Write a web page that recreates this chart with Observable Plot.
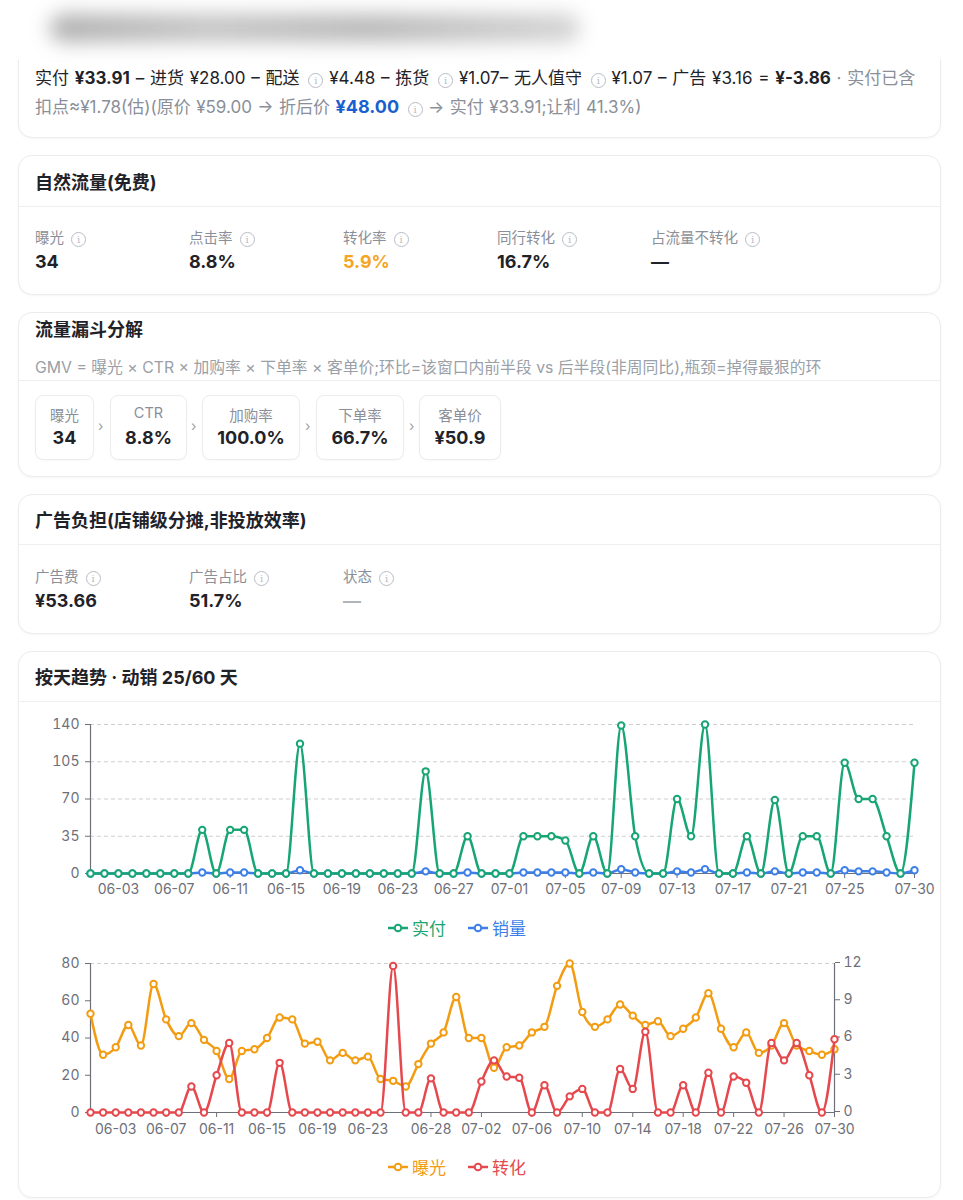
<!DOCTYPE html>
<html><head><meta charset="utf-8">
<script src="https://cdn.jsdelivr.net/npm/d3@7"></script>
<script src="https://cdn.jsdelivr.net/npm/@observablehq/plot@0.6"></script>
<style>
html,body{margin:0;padding:0;background:#fff;}
body{width:963px;height:1200px;position:relative;overflow:hidden;font-family:Inter,"Noto Sans CJK SC",sans-serif;color:#1f2329;}
.card{position:absolute;left:18px;width:921px;background:#fff;border:1px solid #ececec;border-radius:14px;box-shadow:0 1px 3px rgba(0,0,0,0.04);}
.ab{position:absolute;white-space:nowrap;}
.title{font-size:18px;font-weight:700;color:#1f2329;}
.sep{position:absolute;left:0;right:0;height:1px;background:#efefef;}
.lab{font-size:14.5px;color:#8a8f99;}
.val{font-size:18px;font-weight:700;color:#1f2329;}
.info{display:inline-block;width:13px;height:13px;border:1px solid #b8bcc4;border-radius:50%;font-size:10px;line-height:13px;text-align:center;color:#b8bcc4;vertical-align:0px;margin-left:3px;font-family:"DejaVu Serif",serif;}
.box{position:absolute;top:395px;height:63px;border:1px solid #ececec;border-radius:8px;background:#fff;box-shadow:0 1px 2px rgba(0,0,0,0.03);}
.box .bl{position:absolute;left:0;right:0;top:8px;text-align:center;font-size:14.5px;color:#8a8f99;}
.box .bv{position:absolute;left:0;right:0;top:31px;text-align:center;font-size:18px;font-weight:700;color:#1f2329;}
.chev{position:absolute;top:417px;font-size:14px;color:#9aa0a8;}
.legend{position:absolute;font-size:17px;display:flex;align-items:center;gap:0;}
.legend span{display:inline-flex;align-items:center;margin-right:22px;}
.legend svg{margin-right:4px;}
</style></head>
<body>
<!-- partial first card -->
<div class="card" style="top:10px;height:126px;"></div>
<div class="ab" style="left:35px;top:66px;font-size:17px;line-height:24px;color:#1f2329;word-spacing:1px;">实付 <b>¥33.91</b> – 进货 ¥28.00 – 配送 <span class="info">i</span> ¥4.48 – 拣货 <span class="info">i</span> ¥1.07– 无人值守 <span class="info">i</span> ¥1.07 – 广告 ¥3.16 = <b>¥-3.86</b> <span style="color:#8a8f99">· 实付已含</span></div>
<div class="ab" style="left:35px;top:95px;font-size:17px;line-height:24px;color:#8a8f99;word-spacing:0.7px;">扣点≈¥1.78(估)(原价 ¥59.00 → 折后价 <b style="color:#1a5fd0;font-size:18px">¥48.00</b> <span class="info">i</span> → 实付 ¥33.91;让利 41.3%)</div>
<!-- blurred sticky header -->
<div style="position:absolute;left:0;top:0;width:963px;height:60px;background:linear-gradient(#fff 0,#fff 75%,rgba(255,255,255,0.9) 100%);"></div>
<div style="position:absolute;left:50px;top:14px;width:530px;height:28px;background:linear-gradient(90deg,#9a9a9a,#b5b5b5 30%,#a6a6a6 60%,#c8c8c8);border-radius:14px;filter:blur(10px);opacity:0.8;"></div>

<!-- card 2 -->
<div class="card" style="top:155px;height:138px;"><div class="sep" style="top:50px;"></div></div>
<div class="ab title" style="left:35px;top:168px;">自然流量(免费)</div>
<div id="nat"></div>

<!-- card 3 -->
<div class="card" style="top:312px;height:163px;"><div class="sep" style="top:67px;"></div></div>
<div class="ab title" style="left:35px;top:315px;">流量漏斗分解</div>
<div class="ab" style="left:35px;top:355px;font-size:15.8px;color:#9aa0a8;">GMV = 曝光 × CTR × 加购率 × 下单率 × 客单价;环比=该窗口内前半段 vs 后半段(非周同比),瓶颈=掉得最狠的环</div>
<div id="funnel"></div>

<!-- card 4 -->
<div class="card" style="top:494px;height:138px;"><div class="sep" style="top:49px;"></div></div>
<div class="ab title" style="left:35px;top:506px;">广告负担(店铺级分摊,非投放效率)</div>
<div id="ads"></div>

<!-- card 5 -->
<div class="card" style="top:651px;height:545px;"><div class="sep" style="top:49px;"></div></div>
<div class="ab title" style="left:35px;top:663px;">按天趋势 · 动销 25/60 天</div>
<div id="c1" style="position:absolute;left:0;top:705px;"></div>
<div id="c2" style="position:absolute;left:0;top:945px;"></div>
<div class="legend" style="left:388px;top:915px;" id="lg1"></div>
<div class="legend" style="left:388px;top:1154px;" id="lg2"></div>

<script>
// ---------- data ----------
const natLabels = ["曝光", "点击率", "转化率", "同行转化", "占流量不转化"];
const natValues = ["34", "8.8%", "5.9%", "16.7%", "—"];
const funnelLabels = ["曝光", "CTR", "加购率", "下单率", "客单价"];
const funnelValues = ["34", "8.8%", "100.0%", "66.7%", "¥50.9"];
const adLabels = ["广告费", "广告占比", "状态"];
const adValues = ["¥53.66", "51.7%", "—"];

const dates = [
  "06-01","06-02","06-03","06-04","06-05","06-06","06-07","06-08","06-09","06-10",
  "06-11","06-12","06-13","06-14","06-15","06-16","06-17","06-18","06-19","06-20",
  "06-21","06-22","06-23","06-24","06-25","06-26","06-27","06-28","06-29","06-30",
  "07-01","07-02","07-03","07-04","07-05","07-06","07-07","07-08","07-09","07-10",
  "07-11","07-12","07-13","07-14","07-15","07-16","07-17","07-18","07-19","07-20",
  "07-21","07-22","07-23","07-24","07-25","07-26","07-27","07-28","07-29","07-30"];
const paid = [
  0,0,0,0,0,0,0,0,41,0, 41,41,0,0,0,122,0,0,0,0, 0,0,0,0,96,0,0,35,0,0,
  0,35,35,35,31,0,35,0,139,35, 0,0,70,35,140,0,0,35,0,69, 0,35,35,0,104,70,70,35,0,104];
const units = [
  0,0,0,0,0,0,0,0,1,0, 1,1,0,0,0,3,0,0,0,0, 0,0,0,0,2,0,0,1,0,0,
  0,1,1,1,1,0,1,0,4,1, 0,0,2,1,4,0,0,1,0,2, 0,1,1,0,3,2,2,1,0,3];
const exposure = [
  53,31,35,47,36,69,50,41,48,39, 33,18,33,34,40,51,50,37,38,28, 32,28,30,18,17,14,26,37,43,62,
  40,40,24,35,36,43,46,68,80,54, 46,50,58,52,47,49,41,45,51,64, 45,35,43,32,36,48,36,33,31,34];
const conv = [
  0,0,0,0,0,0,0,0,2.1,0, 3.0,5.6,0,0,0,4.0,0,0,0,0, 0,0,0,0,11.8,0,0,2.75,0,0,
  0,2.5,4.2,2.9,2.8,0,2.2,0,1.3,1.9, 0,0,3.5,1.9,6.5,0,0,2.2,0,3.2, 0,2.9,2.4,0,5.6,4.2,5.6,3.0,0,5.9];
const ticks1 = ["06-03","06-07","06-11","06-15","06-19","06-23","06-27","07-01","07-05","07-09","07-13","07-17","07-21","07-25","07-30"];
const ticks2 = ["06-03","06-07","06-11","06-15","06-19","06-23","06-28","07-02","07-06","07-10","07-14","07-18","07-22","07-26","07-30"];
const yTicks1 = [0,35,70,105,140];
const yTicksL = [0,20,40,60,80];
const yTicksR = [0,3,6,9,12];

const C = {paid:"#17a673", units:"#3d7fe8", exp:"#f39c12", conv:"#e5484d", axis:"#6e7079", grid:"#cfcfcf"};

// ---------- metric cards ----------
const info = '<span class="info">i</span>';
function metrics(id, labels, values, colX, labY, valY, colors) {
  document.getElementById(id).innerHTML = labels.map((l,i) =>
    `<div class="ab lab" style="left:${colX[i]}px;top:${labY-11}px;">${l} ${info}</div>` +
    `<div class="ab val" style="left:${colX[i]}px;top:${valY-12}px;${colors && colors[i] ? "color:"+colors[i]+";" : ""}">${values[i]}</div>`
  ).join("");
}
metrics("nat", natLabels, natValues, [35,189,343,497,651], 237, 263, [null,null,"#f5a524",null,null]);
metrics("ads", adLabels, adValues, [35,189,343], 576, 602, [null,null,"#b0b4bb"]);

const boxX = [[35,92],[110,185],[202,298],[316,402],[419,499]];
const chevX = [98, 191, 305, 409];
document.getElementById("funnel").innerHTML =
  funnelLabels.map((l,i) => `<div class="box" style="left:${boxX[i][0]}px;width:${boxX[i][1]-boxX[i][0]}px;"><div class="bl">${l}</div><div class="bv">${funnelValues[i]}</div></div>`).join("") +
  chevX.map(x => `<div class="chev" style="left:${x}px;">›</div>`).join("");

// ---------- charts ----------
const rows = dates.map((d,i) => ({date:d, paid:paid[i], units:units[i], exposure:exposure[i], conv:conv[i]}));
const font = {fontFamily:'Inter,"Noto Sans CJK SC",sans-serif', fontSize:"14px", color:C.axis, background:"transparent", overflow:"visible"};

const chart1 = Plot.plot({
  width:963, height:200, marginLeft:90, marginRight:49, marginTop:19, marginBottom:32,
  style:font,
  x:{type:"point", domain:dates, padding:0},
  y:{domain:[0,140]},
  marks:[
    Plot.gridY(yTicks1.slice(1), {stroke:C.grid, strokeOpacity:1, strokeDasharray:"4,3"}),
    Plot.ruleY([0], {stroke:C.axis, strokeWidth:1.2}),
    Plot.ruleX([dates[0]], {stroke:C.axis, strokeWidth:1.2}),
    Plot.axisY(yTicks1, {tickSize:5, tickPadding:6, label:null, stroke:C.axis}),
    Plot.axisX(ticks1, {tickSize:5, tickPadding:6, label:null, stroke:C.axis}),
    Plot.line(rows, {x:"date", y:"units", stroke:C.units, strokeWidth:2.5, curve:"monotone-x"}),
    Plot.dot(rows, {x:"date", y:"units", r:3.2, stroke:C.units, strokeWidth:2, fill:"#fff"}),
    Plot.line(rows, {x:"date", y:"paid", stroke:C.paid, strokeWidth:2.5, curve:"monotone-x"}),
    Plot.dot(rows, {x:"date", y:"paid", r:3.2, stroke:C.paid, strokeWidth:2, fill:"#fff"})
  ]
});
document.getElementById("c1").appendChild(chart1);

const k = 80/12; // right axis (转化) mapped onto left axis range
const chart2 = Plot.plot({
  width:963, height:195, marginLeft:90, marginRight:129, marginTop:18, marginBottom:28,
  style:font,
  x:{type:"point", domain:dates, padding:0},
  y:{domain:[0,80]},
  marks:[
    Plot.gridY([80], {stroke:C.grid, strokeOpacity:1, strokeDasharray:"4,3"}),
    Plot.ruleY([0], {stroke:C.axis, strokeWidth:1.2}),
    Plot.ruleX([dates[0]], {stroke:C.axis, strokeWidth:1.2}),
    Plot.ruleX([dates[dates.length-1]], {stroke:C.axis, strokeWidth:1.2}),
    Plot.axisY(yTicksL, {tickSize:5, tickPadding:6, label:null, stroke:C.axis}),
    Plot.axisY(yTicksR.map(v => v*k), {anchor:"right", tickSize:5, tickPadding:4, label:null, stroke:C.axis, tickFormat: v => Math.round(v/k), dy:-1}),
    Plot.axisX(ticks2, {tickSize:5, tickPadding:7, label:null, stroke:C.axis}),
    Plot.line(rows, {x:"date", y:"exposure", stroke:C.exp, strokeWidth:2.5, curve:"monotone-x"}),
    Plot.dot(rows, {x:"date", y:"exposure", r:3.2, stroke:C.exp, strokeWidth:2, fill:"#fff"}),
    Plot.line(rows, {x:"date", y:d => d.conv*k, stroke:C.conv, strokeWidth:2.5, curve:"monotone-x"}),
    Plot.dot(rows, {x:"date", y:d => d.conv*k, r:3.2, stroke:C.conv, strokeWidth:2, fill:"#fff"})
  ]
});
document.getElementById("c2").appendChild(chart2);

function icon(c){return `<svg width="20" height="10"><line x1="0" y1="5" x2="20" y2="5" stroke="${c}" stroke-width="2.5"/><circle cx="10" cy="5" r="3.3" fill="#fff" stroke="${c}" stroke-width="2"/></svg>`;}
document.getElementById("lg1").innerHTML = `<span style="color:${C.paid}">${icon(C.paid)}实付</span><span style="color:${C.units}">${icon(C.units)}销量</span>`;
document.getElementById("lg2").innerHTML = `<span style="color:${C.exp}">${icon(C.exp)}曝光</span><span style="color:${C.conv}">${icon(C.conv)}转化</span>`;
</script>
</body></html>
